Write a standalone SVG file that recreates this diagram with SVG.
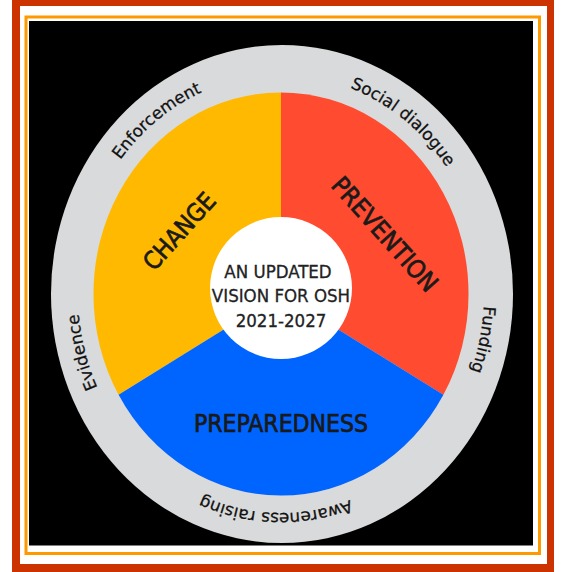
<svg xmlns="http://www.w3.org/2000/svg" xmlns:xlink="http://www.w3.org/1999/xlink" width="568" height="572" viewBox="0 0 568 572">
  <style>
    .ring { font-family: "DejaVu Sans", "Open Sans", sans-serif; font-size: 16.8px; fill: #111111; stroke: #111111; stroke-width: 0.25; }
    .big { font-family: "Liberation Sans Narrow", "DejaVu Sans Condensed", "Roboto", sans-serif; font-weight: normal; fill: #1a1a1a; stroke: #1a1a1a; stroke-width: 0.7; text-anchor: middle; }
    .mid { font-family: "Liberation Sans Narrow", "DejaVu Sans Condensed", "Roboto", sans-serif; font-size: 18.5px; fill: #222; stroke: #222; stroke-width: 0.3; text-anchor: middle; }
  </style>
  <defs>
    <path id="ringPath" d="M150.5,461.8 A203,219 0 1,1 411.5,126.2 A203,219 0 1,1 150.5,461.8"/>
  </defs>
  <rect width="568" height="572" fill="#ffffff"/>
  <g id="frame">
    <rect x="12" y="0" width="542" height="572" fill="#CC3300"/>
    <rect x="20" y="6" width="527" height="558" fill="#ffffff"/>
    <rect x="26" y="17" width="513.5" height="536.5" fill="none" stroke="#FF9900" stroke-width="3"/>
    <rect x="29" y="21" width="504" height="524.5" fill="#000000"/>
  </g>
  <g id="ring">
    <ellipse cx="282" cy="294" rx="231" ry="249" fill="#D9DADB"/>
  </g>
  <g id="change">
    <path d="M281,294 L281,92.5 A187.5,201.5 0 0,0 118.6,394.75 Z" fill="#FFB900"/>
  </g>
  <g id="prevention">
    <path d="M281,294 L281,92.5 A187.5,201.5 0 0,1 443.4,394.75 Z" fill="#FF4B2F"/>
  </g>
  <g id="preparedness">
    <path d="M281,294 L443.4,394.75 A187.5,201.5 0 0,1 118.6,394.75 Z" fill="#0064FF"/>
  </g>
  <g id="center">
    <circle cx="281" cy="288" r="71" fill="#ffffff"/>
    <text class="mid" x="278" y="278">AN UPDATED</text>
    <text class="mid" x="281" y="302">VISION FOR OSH</text>
    <text class="mid" x="281" y="327">2021-2027</text>
  </g>
  <g id="labels">
    <text class="big" font-size="24.5" transform="translate(179,231) rotate(-48)" y="8.9">CHANGE</text>
    <text class="big" font-size="25" transform="translate(385,234) rotate(48)" y="9">PREVENTION</text>
    <text class="big" font-size="24.5" x="281" y="432">PREPAREDNESS</text>
  </g>
  <g id="ring-labels">
    <text class="ring"><textPath xlink:href="#ringPath" href="#ringPath" startOffset="9.8%" text-anchor="middle">Evidence</textPath></text>
    <text class="ring"><textPath xlink:href="#ringPath" href="#ringPath" startOffset="29%" text-anchor="middle">Enforcement</textPath></text>
    <text class="ring"><textPath xlink:href="#ringPath" href="#ringPath" startOffset="49.3%" text-anchor="middle">Social dialogue</textPath></text>
    <text class="ring"><textPath xlink:href="#ringPath" href="#ringPath" startOffset="67.6%" text-anchor="middle">Funding</textPath></text>
    <text class="ring"><textPath xlink:href="#ringPath" href="#ringPath" startOffset="89.6%" text-anchor="middle">Awareness raising</textPath></text>
  </g>
</svg>
